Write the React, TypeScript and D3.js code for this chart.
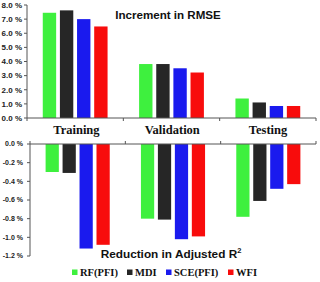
import React from 'react';
import * as d3 from 'd3';

const categories = ['Training', 'Validation', 'Testing'];
const methods = ['RF(PFI)', 'MDI', 'SCE(PFI)', 'WFI'];
const colors = ['#3ef03e', '#262626', '#1a1aee', '#f80c0c'];

// Increment in RMSE (%), one row per category
const rmseIncrement = [
  [7.45, 7.62, 7.0, 6.48],
  [3.82, 3.82, 3.52, 3.22],
  [1.38, 1.1, 0.85, 0.85],
];
// Reduction in adjusted R2 (%)
const r2Reduction = [
  [-0.3, -0.31, -1.12, -1.08],
  [-0.8, -0.81, -1.02, -0.99],
  [-0.78, -0.61, -0.48, -0.43],
];

const topTicks = [0, 1, 2, 3, 4, 5, 6, 7, 8];
const bottomTicks = [0, -0.2, -0.4, -0.6, -0.8, -1.0, -1.2];

const W = 320;
const H = 282;
const axisColor = '#555';
const sans = '"Liberation Sans", Arial, sans-serif';
const serif = '"Liberation Serif", "Times New Roman", serif';

const fmt = (v: number) => `${v.toFixed(1)} %`;

const App: React.FC = () => {
  // upper panel
  const x1 = d3.scaleBand<string>().domain(categories).range([27, 316]);
  const y1 = d3.scaleLinear().domain([0, 8]).range([118, 5]);
  // lower panel
  const x2 = d3.scaleBand<string>().domain(categories).range([30, 316]);
  const y2 = d3.scaleLinear().domain([-1.2, 0]).range([256, 144]);

  const inner = (outer: d3.ScaleBand<string>) =>
    d3.scaleBand<string>().domain(methods).range([0, outer.bandwidth()]).paddingInner(0.22).paddingOuter(0.92);
  const xi1 = inner(x1);
  const xi2 = inner(x2);

  const legendX = [72, 127, 166, 228];

  return (
    <div style={{ position: 'fixed', left: 0, top: 0 }}>
      <svg width={W} height={H} style={{ display: 'block', background: '#fff' }}>
        {/* upper bars */}
        {categories.map((c, ci) =>
          methods.map((m, mi) => {
            const v = rmseIncrement[ci][mi];
            return (
              <rect
                key={`t-${c}-${m}`}
                x={x1(c)! + xi1(m)!}
                y={y1(v)}
                width={xi1.bandwidth()}
                height={y1(0) - y1(v)}
                fill={colors[mi]}
              />
            );
          }),
        )}
        {/* upper axes */}
        <line x1={27} x2={27} y1={y1(8)} y2={y1(0)} stroke={axisColor} />
        <line x1={27} x2={316} y1={y1(0)} y2={y1(0)} stroke={axisColor} />
        {topTicks.map((t) => (
          <g key={`ty-${t}`}>
            <line x1={24} x2={27} y1={y1(t)} y2={y1(t)} stroke={axisColor} />
            <text x={22} y={y1(t)} dy="0.35em" textAnchor="end" fontFamily={sans} fontWeight="bold" fontSize={8} fill="#222">
              {fmt(t)}
            </text>
          </g>
        ))}
        {[...categories.map((c) => x1(c)!), 316].map((px, i) => (
          <line key={`tx-${i}`} x1={px} x2={px} y1={y1(0)} y2={y1(0) + 3} stroke={axisColor} />
        ))}
        <text x={168} y={19} textAnchor="middle" fontFamily={sans} fontWeight="bold" fontSize={11.6} fill="#111">
          Increment in RMSE
        </text>

        {/* category labels */}
        {categories.map((c) => (
          <text
            key={`cl-${c}`}
            x={(x1(c)! + x1.bandwidth() / 2 + x2(c)! + x2.bandwidth() / 2) / 2}
            y={134}
            textAnchor="middle"
            fontFamily={serif}
            fontWeight="bold"
            fontSize={12.5}
            fill="#111"
          >
            {c}
          </text>
        ))}

        {/* lower bars */}
        {categories.map((c, ci) =>
          methods.map((m, mi) => {
            const v = r2Reduction[ci][mi];
            return (
              <rect
                key={`b-${c}-${m}`}
                x={x2(c)! + xi2(m)!}
                y={y2(0)}
                width={xi2.bandwidth()}
                height={y2(v) - y2(0)}
                fill={colors[mi]}
              />
            );
          }),
        )}
        {/* lower axes */}
        <line x1={30} x2={30} y1={y2(0)} y2={y2(-1.2)} stroke={axisColor} />
        <line x1={30} x2={316} y1={y2(0)} y2={y2(0)} stroke={axisColor} />
        {bottomTicks.map((t) => (
          <g key={`by-${t}`}>
            <line x1={27} x2={30} y1={y2(t)} y2={y2(t)} stroke={axisColor} />
            <text x={23} y={y2(t)} dy="0.35em" textAnchor="end" fontFamily={sans} fontWeight="bold" fontSize={7} fill="#222">
              {fmt(t)}
            </text>
          </g>
        ))}
        {[...categories.map((c) => x2(c)!), 316].map((px, i) => (
          <line key={`bx-${i}`} x1={px} x2={px} y1={y2(0)} y2={y2(0) - 3} stroke={axisColor} />
        ))}
        <text x={171} y={258} textAnchor="middle" fontFamily={sans} fontWeight="bold" fontSize={11.8} fill="#111">
          Reduction in Adjusted R<tspan fontSize={7.5} dy={-5}>2</tspan>
        </text>

        {/* legend */}
        {methods.map((m, i) => (
          <g key={`lg-${m}`}>
            <rect x={legendX[i]} y={269.5} width={5.5} height={5.5} fill={colors[i]} />
            <text x={legendX[i] + 8} y={276} fontFamily={serif} fontWeight="bold" fontSize={10.5} fill="#111">
              {m}
            </text>
          </g>
        ))}
      </svg>
    </div>
  );
};

export default App;
